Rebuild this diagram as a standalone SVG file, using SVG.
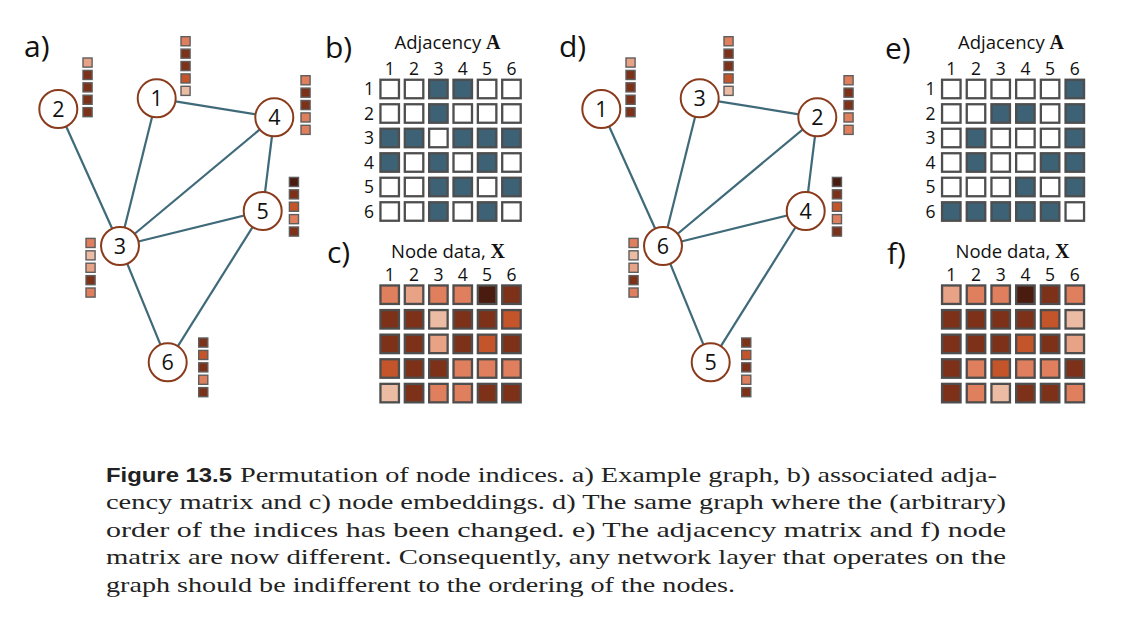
<svg xmlns="http://www.w3.org/2000/svg" width="1122" height="620" viewBox="0 0 1122 620">
<style>
.lbl{font-family:"Open Sans","DejaVu Sans",sans-serif;font-size:30px;fill:#111}
.num{font-family:"Open Sans","DejaVu Sans",sans-serif;font-size:21.5px;fill:#111;text-anchor:middle}
.ax{font-family:"Open Sans","DejaVu Sans",sans-serif;font-size:17.5px;fill:#111;text-anchor:middle}
.ttl{font-family:"Open Sans","DejaVu Sans",sans-serif;font-size:18.5px;fill:#111;text-anchor:middle}
.bs{font-family:"Liberation Serif",serif;font-weight:bold;font-size:20px}
.edge{stroke:#3F6A79;stroke-width:2.2;fill:none}
.node{fill:#fff;stroke:#8A3B1C;stroke-width:2}
.m rect{stroke:#4E4E4E;stroke-width:2.3}
.bar rect{stroke:#5E5E5E;stroke-width:1.4}
.w{fill:#fff}.t{fill:#3D6276}
.S{fill:#E07F5D}.L1{fill:#E8A285}.L2{fill:#ECBBA4}.D{fill:#7D3118}.O{fill:#C4552B}.V{fill:#4A1C10}
.cap{font-family:"Liberation Serif",serif;font-size:22px;fill:#222}
.capb{font-family:"Liberation Sans",sans-serif;font-weight:bold;font-size:20.5px;fill:#222}
</style>
<rect width="1122" height="620" fill="#fff"/>

<!-- Panel labels -->
<text class="lbl" x="24" y="57">a)</text>
<text class="lbl" x="325" y="58">b)</text>
<text class="lbl" x="327" y="263">c)</text>
<text class="lbl" x="559" y="57">d)</text>
<text class="lbl" x="885" y="59">e)</text>
<text class="lbl" x="887" y="264">f)</text>

<!-- Graph a connectors -->
<g id="connectors-a">
<line class="edge" x1="156.7" y1="98.3" x2="274.3" y2="117.3"/>
<line class="edge" x1="156.7" y1="98.3" x2="120" y2="246"/>
<line class="edge" x1="58.3" y1="109" x2="120" y2="246"/>
<line class="edge" x1="120" y1="246" x2="274.3" y2="117.3"/>
<line class="edge" x1="120" y1="246" x2="262.7" y2="211"/>
<line class="edge" x1="120" y1="246" x2="167.7" y2="362.3"/>
<line class="edge" x1="274.3" y1="117.3" x2="262.7" y2="211"/>
<line class="edge" x1="262.7" y1="211" x2="167.7" y2="362.3"/>
</g>

<!-- Graph a nodes -->
<g id="a-node1">
<circle class="node" cx="156.7" cy="98.3" r="19"/><text class="num" x="156.7" y="106">1</text>
<g class="bar" transform="translate(180.3,36)"><rect class="S" x="0.7" y="0.7" width="9.1" height="9.1"/><rect class="D" x="0.7" y="13.1" width="9.1" height="9.1"/><rect class="D" x="0.7" y="25.5" width="9.1" height="9.1"/><rect class="O" x="0.7" y="37.9" width="9.1" height="9.1"/><rect class="L2" x="0.7" y="50.3" width="9.1" height="9.1"/></g>
</g>
<g id="a-node2">
<circle class="node" cx="58.3" cy="109" r="19"/><text class="num" x="58.3" y="116.7">2</text>
<g class="bar" transform="translate(82.3,57.3)"><rect class="L1" x="0.7" y="0.7" width="9.1" height="9.1"/><rect class="D" x="0.7" y="13.1" width="9.1" height="9.1"/><rect class="D" x="0.7" y="25.5" width="9.1" height="9.1"/><rect class="D" x="0.7" y="37.9" width="9.1" height="9.1"/><rect class="D" x="0.7" y="50.3" width="9.1" height="9.1"/></g>
</g>
<g id="a-node3">
<circle class="node" cx="120" cy="246" r="19"/><text class="num" x="120" y="253.7">3</text>
<g class="bar" transform="translate(85.3,237.7)"><rect class="S" x="0.7" y="0.7" width="9.1" height="9.1"/><rect class="L2" x="0.7" y="13.1" width="9.1" height="9.1"/><rect class="L1" x="0.7" y="25.5" width="9.1" height="9.1"/><rect class="D" x="0.7" y="37.9" width="9.1" height="9.1"/><rect class="S" x="0.7" y="50.3" width="9.1" height="9.1"/></g>
</g>
<g id="a-node4">
<circle class="node" cx="274.3" cy="117.3" r="19"/><text class="num" x="274.3" y="125">4</text>
<g class="bar" transform="translate(300.3,75)"><rect class="S" x="0.7" y="0.7" width="9.1" height="9.1"/><rect class="D" x="0.7" y="13.1" width="9.1" height="9.1"/><rect class="D" x="0.7" y="25.5" width="9.1" height="9.1"/><rect class="S" x="0.7" y="37.9" width="9.1" height="9.1"/><rect class="S" x="0.7" y="50.3" width="9.1" height="9.1"/></g>
</g>
<g id="a-node5">
<circle class="node" cx="262.7" cy="211" r="19"/><text class="num" x="262.7" y="218.7">5</text>
<g class="bar" transform="translate(288.7,176.7)"><rect class="V" x="0.7" y="0.7" width="9.1" height="9.1"/><rect class="D" x="0.7" y="13.1" width="9.1" height="9.1"/><rect class="O" x="0.7" y="25.5" width="9.1" height="9.1"/><rect class="S" x="0.7" y="37.9" width="9.1" height="9.1"/><rect class="D" x="0.7" y="50.3" width="9.1" height="9.1"/></g>
</g>
<g id="a-node6">
<circle class="node" cx="167.7" cy="362.3" r="19"/><text class="num" x="167.7" y="370">6</text>
<g class="bar" transform="translate(198,337.3)"><rect class="D" x="0.7" y="0.7" width="9.1" height="9.1"/><rect class="O" x="0.7" y="13.1" width="9.1" height="9.1"/><rect class="D" x="0.7" y="25.5" width="9.1" height="9.1"/><rect class="S" x="0.7" y="37.9" width="9.1" height="9.1"/><rect class="D" x="0.7" y="50.3" width="9.1" height="9.1"/></g>
</g>

<!-- Graph d connectors -->
<g id="connectors-d">
<line class="edge" x1="699.7" y1="98.3" x2="817.3" y2="117.3"/>
<line class="edge" x1="699.7" y1="98.3" x2="663" y2="246"/>
<line class="edge" x1="601.3" y1="109" x2="663" y2="246"/>
<line class="edge" x1="663" y1="246" x2="817.3" y2="117.3"/>
<line class="edge" x1="663" y1="246" x2="805.7" y2="211"/>
<line class="edge" x1="663" y1="246" x2="710.7" y2="362.3"/>
<line class="edge" x1="817.3" y1="117.3" x2="805.7" y2="211"/>
<line class="edge" x1="805.7" y1="211" x2="710.7" y2="362.3"/>
</g>

<!-- Graph d nodes -->
<g id="d-node3">
<circle class="node" cx="699.7" cy="98.3" r="19"/><text class="num" x="699.7" y="106">3</text>
<g class="bar" transform="translate(723.3,36)"><rect class="S" x="0.7" y="0.7" width="9.1" height="9.1"/><rect class="D" x="0.7" y="13.1" width="9.1" height="9.1"/><rect class="D" x="0.7" y="25.5" width="9.1" height="9.1"/><rect class="O" x="0.7" y="37.9" width="9.1" height="9.1"/><rect class="L2" x="0.7" y="50.3" width="9.1" height="9.1"/></g>
</g>
<g id="d-node1">
<circle class="node" cx="601.3" cy="109" r="19"/><text class="num" x="601.3" y="116.7">1</text>
<g class="bar" transform="translate(625.3,57.3)"><rect class="L1" x="0.7" y="0.7" width="9.1" height="9.1"/><rect class="D" x="0.7" y="13.1" width="9.1" height="9.1"/><rect class="D" x="0.7" y="25.5" width="9.1" height="9.1"/><rect class="D" x="0.7" y="37.9" width="9.1" height="9.1"/><rect class="D" x="0.7" y="50.3" width="9.1" height="9.1"/></g>
</g>
<g id="d-node6">
<circle class="node" cx="663" cy="246" r="19"/><text class="num" x="663" y="253.7">6</text>
<g class="bar" transform="translate(628.3,237.7)"><rect class="S" x="0.7" y="0.7" width="9.1" height="9.1"/><rect class="L2" x="0.7" y="13.1" width="9.1" height="9.1"/><rect class="L1" x="0.7" y="25.5" width="9.1" height="9.1"/><rect class="D" x="0.7" y="37.9" width="9.1" height="9.1"/><rect class="S" x="0.7" y="50.3" width="9.1" height="9.1"/></g>
</g>
<g id="d-node2">
<circle class="node" cx="817.3" cy="117.3" r="19"/><text class="num" x="817.3" y="125">2</text>
<g class="bar" transform="translate(843.3,75)"><rect class="S" x="0.7" y="0.7" width="9.1" height="9.1"/><rect class="D" x="0.7" y="13.1" width="9.1" height="9.1"/><rect class="D" x="0.7" y="25.5" width="9.1" height="9.1"/><rect class="S" x="0.7" y="37.9" width="9.1" height="9.1"/><rect class="S" x="0.7" y="50.3" width="9.1" height="9.1"/></g>
</g>
<g id="d-node4">
<circle class="node" cx="805.7" cy="211" r="19"/><text class="num" x="805.7" y="218.7">4</text>
<g class="bar" transform="translate(831.7,176.7)"><rect class="V" x="0.7" y="0.7" width="9.1" height="9.1"/><rect class="D" x="0.7" y="13.1" width="9.1" height="9.1"/><rect class="O" x="0.7" y="25.5" width="9.1" height="9.1"/><rect class="S" x="0.7" y="37.9" width="9.1" height="9.1"/><rect class="D" x="0.7" y="50.3" width="9.1" height="9.1"/></g>
</g>
<g id="d-node5">
<circle class="node" cx="710.7" cy="362.3" r="19"/><text class="num" x="710.7" y="370">5</text>
<g class="bar" transform="translate(741,337.3)"><rect class="D" x="0.7" y="0.7" width="9.1" height="9.1"/><rect class="O" x="0.7" y="13.1" width="9.1" height="9.1"/><rect class="D" x="0.7" y="25.5" width="9.1" height="9.1"/><rect class="S" x="0.7" y="37.9" width="9.1" height="9.1"/><rect class="D" x="0.7" y="50.3" width="9.1" height="9.1"/></g>
</g>

<!-- Matrix b -->
<g id="matrix-b">
<text class="ttl" x="447.5" y="49">Adjacency <tspan class="bs">A</tspan></text>
<text class="ax" x="389.7" y="75">1</text><text class="ax" x="414.05" y="75">2</text><text class="ax" x="438.4" y="75">3</text><text class="ax" x="462.75" y="75">4</text><text class="ax" x="487.1" y="75">5</text><text class="ax" x="511.45" y="75">6</text>
<text class="ax" x="369" y="95.2">1</text><text class="ax" x="369" y="119.7">2</text><text class="ax" x="369" y="144.2">3</text><text class="ax" x="369" y="168.7">4</text><text class="ax" x="369" y="193.2">5</text><text class="ax" x="369" y="217.7">6</text>
<g class="m" transform="translate(380.45,79.75)">
<rect class="w" x="0" y="0" width="18.5" height="18.5"/><rect class="w" x="24.35" y="0" width="18.5" height="18.5"/><rect class="t" x="48.7" y="0" width="18.5" height="18.5"/><rect class="t" x="73.05" y="0" width="18.5" height="18.5"/><rect class="w" x="97.4" y="0" width="18.5" height="18.5"/><rect class="w" x="121.75" y="0" width="18.5" height="18.5"/>
<rect class="w" x="0" y="24.5" width="18.5" height="18.5"/><rect class="w" x="24.35" y="24.5" width="18.5" height="18.5"/><rect class="t" x="48.7" y="24.5" width="18.5" height="18.5"/><rect class="w" x="73.05" y="24.5" width="18.5" height="18.5"/><rect class="w" x="97.4" y="24.5" width="18.5" height="18.5"/><rect class="w" x="121.75" y="24.5" width="18.5" height="18.5"/>
<rect class="t" x="0" y="49" width="18.5" height="18.5"/><rect class="t" x="24.35" y="49" width="18.5" height="18.5"/><rect class="w" x="48.7" y="49" width="18.5" height="18.5"/><rect class="t" x="73.05" y="49" width="18.5" height="18.5"/><rect class="t" x="97.4" y="49" width="18.5" height="18.5"/><rect class="t" x="121.75" y="49" width="18.5" height="18.5"/>
<rect class="t" x="0" y="73.5" width="18.5" height="18.5"/><rect class="w" x="24.35" y="73.5" width="18.5" height="18.5"/><rect class="t" x="48.7" y="73.5" width="18.5" height="18.5"/><rect class="w" x="73.05" y="73.5" width="18.5" height="18.5"/><rect class="t" x="97.4" y="73.5" width="18.5" height="18.5"/><rect class="w" x="121.75" y="73.5" width="18.5" height="18.5"/>
<rect class="w" x="0" y="98" width="18.5" height="18.5"/><rect class="w" x="24.35" y="98" width="18.5" height="18.5"/><rect class="t" x="48.7" y="98" width="18.5" height="18.5"/><rect class="t" x="73.05" y="98" width="18.5" height="18.5"/><rect class="w" x="97.4" y="98" width="18.5" height="18.5"/><rect class="t" x="121.75" y="98" width="18.5" height="18.5"/>
<rect class="w" x="0" y="122.5" width="18.5" height="18.5"/><rect class="w" x="24.35" y="122.5" width="18.5" height="18.5"/><rect class="t" x="48.7" y="122.5" width="18.5" height="18.5"/><rect class="w" x="73.05" y="122.5" width="18.5" height="18.5"/><rect class="t" x="97.4" y="122.5" width="18.5" height="18.5"/><rect class="w" x="121.75" y="122.5" width="18.5" height="18.5"/>
</g>
</g>

<!-- Matrix c -->
<g id="matrix-c">
<text class="ttl" x="448" y="258.3">Node data, <tspan class="bs">X</tspan></text>
<text class="ax" x="389.7" y="280.5">1</text><text class="ax" x="414.05" y="280.5">2</text><text class="ax" x="438.4" y="280.5">3</text><text class="ax" x="462.75" y="280.5">4</text><text class="ax" x="487.1" y="280.5">5</text><text class="ax" x="511.45" y="280.5">6</text>
<g class="m" transform="translate(380.45,285.45)">
<rect class="S" x="0" y="0" width="18.5" height="18.5"/><rect class="L1" x="24.35" y="0" width="18.5" height="18.5"/><rect class="S" x="48.7" y="0" width="18.5" height="18.5"/><rect class="S" x="73.05" y="0" width="18.5" height="18.5"/><rect class="V" x="97.4" y="0" width="18.5" height="18.5"/><rect class="D" x="121.75" y="0" width="18.5" height="18.5"/>
<rect class="D" x="0" y="24.6" width="18.5" height="18.5"/><rect class="D" x="24.35" y="24.6" width="18.5" height="18.5"/><rect class="L2" x="48.7" y="24.6" width="18.5" height="18.5"/><rect class="D" x="73.05" y="24.6" width="18.5" height="18.5"/><rect class="D" x="97.4" y="24.6" width="18.5" height="18.5"/><rect class="O" x="121.75" y="24.6" width="18.5" height="18.5"/>
<rect class="D" x="0" y="49.2" width="18.5" height="18.5"/><rect class="D" x="24.35" y="49.2" width="18.5" height="18.5"/><rect class="L1" x="48.7" y="49.2" width="18.5" height="18.5"/><rect class="D" x="73.05" y="49.2" width="18.5" height="18.5"/><rect class="O" x="97.4" y="49.2" width="18.5" height="18.5"/><rect class="D" x="121.75" y="49.2" width="18.5" height="18.5"/>
<rect class="O" x="0" y="73.8" width="18.5" height="18.5"/><rect class="D" x="24.35" y="73.8" width="18.5" height="18.5"/><rect class="D" x="48.7" y="73.8" width="18.5" height="18.5"/><rect class="S" x="73.05" y="73.8" width="18.5" height="18.5"/><rect class="S" x="97.4" y="73.8" width="18.5" height="18.5"/><rect class="S" x="121.75" y="73.8" width="18.5" height="18.5"/>
<rect class="L2" x="0" y="98.4" width="18.5" height="18.5"/><rect class="D" x="24.35" y="98.4" width="18.5" height="18.5"/><rect class="S" x="48.7" y="98.4" width="18.5" height="18.5"/><rect class="S" x="73.05" y="98.4" width="18.5" height="18.5"/><rect class="D" x="97.4" y="98.4" width="18.5" height="18.5"/><rect class="D" x="121.75" y="98.4" width="18.5" height="18.5"/>
</g>
</g>

<!-- Matrix e -->
<g id="matrix-e">
<text class="ttl" x="1011" y="49">Adjacency <tspan class="bs">A</tspan></text>
<text class="ax" x="951.3" y="75">1</text><text class="ax" x="976" y="75">2</text><text class="ax" x="1000.7" y="75">3</text><text class="ax" x="1025.4" y="75">4</text><text class="ax" x="1050.1" y="75">5</text><text class="ax" x="1074.8" y="75">6</text>
<text class="ax" x="930.5" y="95.2">1</text><text class="ax" x="930.5" y="119.7">2</text><text class="ax" x="930.5" y="144.2">3</text><text class="ax" x="930.5" y="168.7">4</text><text class="ax" x="930.5" y="193.2">5</text><text class="ax" x="930.5" y="217.7">6</text>
<g class="m" transform="translate(942.05,79.75)">
<rect class="w" x="0" y="0" width="18.5" height="18.5"/><rect class="w" x="24.7" y="0" width="18.5" height="18.5"/><rect class="w" x="49.4" y="0" width="18.5" height="18.5"/><rect class="w" x="74.1" y="0" width="18.5" height="18.5"/><rect class="w" x="98.8" y="0" width="18.5" height="18.5"/><rect class="t" x="123.5" y="0" width="18.5" height="18.5"/>
<rect class="w" x="0" y="24.5" width="18.5" height="18.5"/><rect class="w" x="24.7" y="24.5" width="18.5" height="18.5"/><rect class="t" x="49.4" y="24.5" width="18.5" height="18.5"/><rect class="t" x="74.1" y="24.5" width="18.5" height="18.5"/><rect class="w" x="98.8" y="24.5" width="18.5" height="18.5"/><rect class="t" x="123.5" y="24.5" width="18.5" height="18.5"/>
<rect class="w" x="0" y="49" width="18.5" height="18.5"/><rect class="t" x="24.7" y="49" width="18.5" height="18.5"/><rect class="w" x="49.4" y="49" width="18.5" height="18.5"/><rect class="w" x="74.1" y="49" width="18.5" height="18.5"/><rect class="w" x="98.8" y="49" width="18.5" height="18.5"/><rect class="t" x="123.5" y="49" width="18.5" height="18.5"/>
<rect class="w" x="0" y="73.5" width="18.5" height="18.5"/><rect class="t" x="24.7" y="73.5" width="18.5" height="18.5"/><rect class="w" x="49.4" y="73.5" width="18.5" height="18.5"/><rect class="w" x="74.1" y="73.5" width="18.5" height="18.5"/><rect class="t" x="98.8" y="73.5" width="18.5" height="18.5"/><rect class="t" x="123.5" y="73.5" width="18.5" height="18.5"/>
<rect class="w" x="0" y="98" width="18.5" height="18.5"/><rect class="w" x="24.7" y="98" width="18.5" height="18.5"/><rect class="w" x="49.4" y="98" width="18.5" height="18.5"/><rect class="t" x="74.1" y="98" width="18.5" height="18.5"/><rect class="w" x="98.8" y="98" width="18.5" height="18.5"/><rect class="t" x="123.5" y="98" width="18.5" height="18.5"/>
<rect class="t" x="0" y="122.5" width="18.5" height="18.5"/><rect class="t" x="24.7" y="122.5" width="18.5" height="18.5"/><rect class="t" x="49.4" y="122.5" width="18.5" height="18.5"/><rect class="t" x="74.1" y="122.5" width="18.5" height="18.5"/><rect class="t" x="98.8" y="122.5" width="18.5" height="18.5"/><rect class="w" x="123.5" y="122.5" width="18.5" height="18.5"/>
</g>
</g>

<!-- Matrix f -->
<g id="matrix-f">
<text class="ttl" x="1012.5" y="258.3">Node data, <tspan class="bs">X</tspan></text>
<text class="ax" x="951.3" y="280.5">1</text><text class="ax" x="976" y="280.5">2</text><text class="ax" x="1000.7" y="280.5">3</text><text class="ax" x="1025.4" y="280.5">4</text><text class="ax" x="1050.1" y="280.5">5</text><text class="ax" x="1074.8" y="280.5">6</text>
<g class="m" transform="translate(942.05,285.45)">
<rect class="L1" x="0" y="0" width="18.5" height="18.5"/><rect class="S" x="24.7" y="0" width="18.5" height="18.5"/><rect class="S" x="49.4" y="0" width="18.5" height="18.5"/><rect class="V" x="74.1" y="0" width="18.5" height="18.5"/><rect class="D" x="98.8" y="0" width="18.5" height="18.5"/><rect class="S" x="123.5" y="0" width="18.5" height="18.5"/>
<rect class="D" x="0" y="24.6" width="18.5" height="18.5"/><rect class="D" x="24.7" y="24.6" width="18.5" height="18.5"/><rect class="D" x="49.4" y="24.6" width="18.5" height="18.5"/><rect class="D" x="74.1" y="24.6" width="18.5" height="18.5"/><rect class="O" x="98.8" y="24.6" width="18.5" height="18.5"/><rect class="L2" x="123.5" y="24.6" width="18.5" height="18.5"/>
<rect class="D" x="0" y="49.2" width="18.5" height="18.5"/><rect class="D" x="24.7" y="49.2" width="18.5" height="18.5"/><rect class="D" x="49.4" y="49.2" width="18.5" height="18.5"/><rect class="O" x="74.1" y="49.2" width="18.5" height="18.5"/><rect class="D" x="98.8" y="49.2" width="18.5" height="18.5"/><rect class="L1" x="123.5" y="49.2" width="18.5" height="18.5"/>
<rect class="D" x="0" y="73.8" width="18.5" height="18.5"/><rect class="S" x="24.7" y="73.8" width="18.5" height="18.5"/><rect class="O" x="49.4" y="73.8" width="18.5" height="18.5"/><rect class="S" x="74.1" y="73.8" width="18.5" height="18.5"/><rect class="S" x="98.8" y="73.8" width="18.5" height="18.5"/><rect class="D" x="123.5" y="73.8" width="18.5" height="18.5"/>
<rect class="D" x="0" y="98.4" width="18.5" height="18.5"/><rect class="S" x="24.7" y="98.4" width="18.5" height="18.5"/><rect class="L2" x="49.4" y="98.4" width="18.5" height="18.5"/><rect class="D" x="74.1" y="98.4" width="18.5" height="18.5"/><rect class="D" x="98.8" y="98.4" width="18.5" height="18.5"/><rect class="S" x="123.5" y="98.4" width="18.5" height="18.5"/>
</g>
</g>

<!-- Caption -->
<g id="caption">
<text class="capb" x="106" y="481.5" textLength="126" lengthAdjust="spacingAndGlyphs">Figure 13.5</text>
<text class="cap" x="240" y="481.5" textLength="757" lengthAdjust="spacingAndGlyphs">Permutation of node indices. a) Example graph, b) associated adja-</text>
<text class="cap" x="106" y="509" textLength="900" lengthAdjust="spacingAndGlyphs">cency matrix and c) node embeddings. d) The same graph where the (arbitrary)</text>
<text class="cap" x="106" y="536.5" textLength="900" lengthAdjust="spacingAndGlyphs">order of the indices has been changed.  e) The adjacency matrix and f) node</text>
<text class="cap" x="106" y="564" textLength="900" lengthAdjust="spacingAndGlyphs">matrix are now different. Consequently, any network layer that operates on the</text>
<text class="cap" x="106" y="591.5" textLength="629" lengthAdjust="spacingAndGlyphs">graph should be indifferent to the ordering of the nodes.</text>
</g>
</svg>
